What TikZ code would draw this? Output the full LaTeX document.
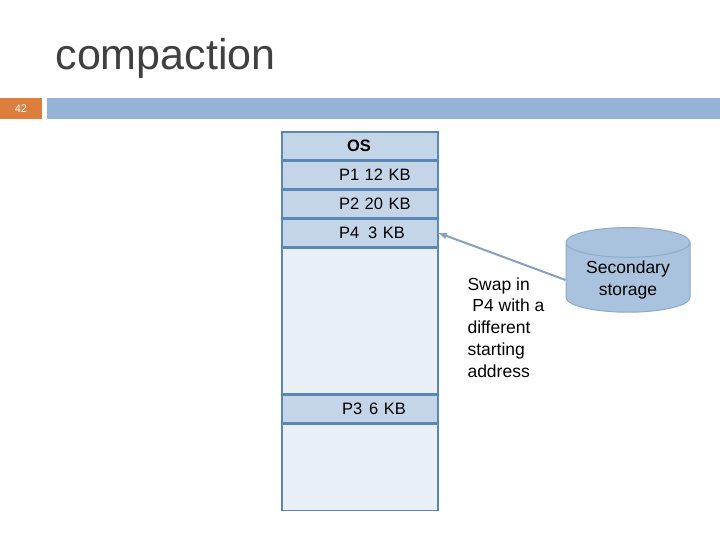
\documentclass[tikz,border=0pt]{standalone}
\usepackage{fontspec}
\setmainfont{Liberation Sans}
\usepackage{tikz}
\usetikzlibrary{shapes,arrows,positioning,calc}
\definecolor{rowblue}{HTML}{C5D5E8}
\definecolor{paleblue}{HTML}{E9EFF7}
\definecolor{edgeblue}{HTML}{5B87B6}
\definecolor{barblue}{HTML}{94B3D6}
\definecolor{barorange}{HTML}{DD7D3E}
\definecolor{cylblue}{HTML}{A9C2DD}
\tikzset{
  memrow/.style={draw=edgeblue,line width=1.5pt,fill=rowblue,minimum width=156pt,
    text width=156pt,align=left,inner xsep=0pt,inner ysep=0pt,outer sep=0pt,
    minimum height=27.5pt,execute at begin node={\hspace*{57pt}},
    font=\fontsize{16.5}{18}\selectfont},
  memgap/.style={memrow,fill=paleblue}
}
\begin{document}
\begin{tikzpicture}[x=1pt,y=-1pt]
  \useasboundingbox (0,0) rectangle (720,540);
  \node[anchor=west,text=black!75,font=\fontsize{43}{46}\selectfont] (title) at (52,58) {compaction};
  \fill[barorange] (0,98) rectangle (42,119);
  \node[text=white,font=\fontsize{11}{12}\selectfont] (num) at (21,108.5) {42};
  \fill[barblue] (47,98) rectangle (720,119);

  \node[memrow,anchor=north] (os) at (360,132) {\hspace*{8pt}\textbf{OS}};
  \node[memrow,below=1.5pt of os] (p1) {P1 12 KB};
  \node[memrow,below=1.5pt of p1] (p2) {P2 20 KB};
  \node[memrow,below=1.5pt of p2] (p4) {P4\hspace{9pt}3 KB};
  \node[memgap,minimum height=145.5pt,below=1.5pt of p4] (free1) {};
  \node[memrow,below=1.5pt of free1] (p3) {\hspace*{3pt}P3\hspace{7pt}6 KB};
  \node[memgap,minimum height=86.5pt,below=1.5pt of p3] (free2) {};

  \node[cylinder,shape border rotate=90,aspect=0.33,draw=edgeblue!70,line width=1pt,
    fill=cylblue,minimum width=124pt,minimum height=76pt,align=center,
    font=\fontsize{17.5}{22}\selectfont] (disk) at (628,280) {\\[-10pt]Secondary\\storage};
  \node[anchor=north west,align=left,font=\fontsize{17.5}{21.7}\selectfont] (note) at (464,274)
    {Swap in\\\ P4 with a\\different\\starting\\address};

  \draw[-latex,draw=barblue!90!black,line width=2pt] (disk.west) -- (p4.east);
\end{tikzpicture}
\end{document}
